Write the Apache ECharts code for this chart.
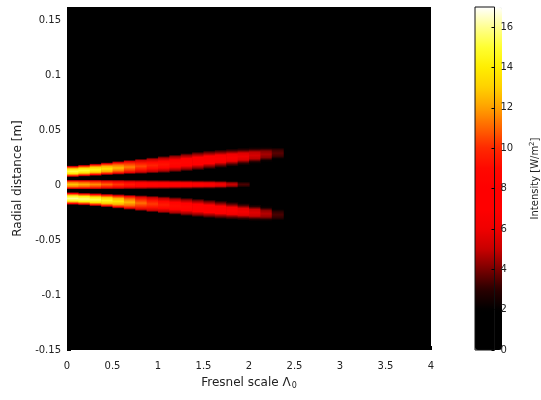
<!DOCTYPE html>
<html>
<head>
<meta charset="utf-8">
<script src="https://cdn.jsdelivr.net/npm/echarts@6/dist/echarts.min.js"></script>
<style>
  html, body { margin: 0; padding: 0; background: #fff; }
  #main { width: 541px; height: 400px; }
</style>
</head>
<body>
<div id="main"></div>
<script>
// column starts along the Fresnel scale (each column is colStep wide)
var colStart = [0, 0.125, 0.25, 0.375, 0.5, 0.625, 0.75, 0.875, 1, 1.125,
                1.25, 1.375, 1.5, 1.625, 1.75, 1.875, 2, 2.125, 2.25, 2.375];

// upper beam: centre [m], half width [m], peak intensity [W/m^2]
var upperCenter = [0.0125, 0.0132, 0.014, 0.0148, 0.0156, 0.0164, 0.0171, 0.0179, 0.0187, 0.0197,
                   0.0208, 0.0219, 0.023, 0.024, 0.025, 0.026, 0.027, 0.028, 0.029, 0.0298];
var upperHalf   = [0.0055, 0.0056, 0.0058, 0.006, 0.0063, 0.0066, 0.007, 0.0074, 0.0078, 0.0081,
                   0.0083, 0.0085, 0.0085, 0.0084, 0.0082, 0.008, 0.0077, 0.0073, 0.0068, 0.006];
var upperPeak   = [15.2, 15, 14.5, 13.7, 12.6, 11.5, 10.5, 9.8, 9.3, 8.9,
                   8.5, 8.1, 7.7, 7.2, 6.7, 6.1, 5.4, 4.6, 3.6, 0];

// middle beam
var middleCenter = [0.0005, 0.0005, 0.0005, 0.0005, 0.0005, 0.0005, 0.0005, 0.0005, 0.0005, 0.0005,
                    0.0005, 0.0005, 0.0005, 0.0005, 0.0005, 0.0005, 0.0005, 0.0005, 0.0005, 0.0005];
var middleHalf   = [0.0045, 0.0045, 0.0045, 0.0044, 0.0044, 0.0043, 0.0043, 0.0042, 0.0042, 0.0041,
                    0.0041, 0.004, 0.004, 0.0039, 0.0037, 0.0035, 0.0033, 0.003, 0.003, 0.003];
var middlePeak   = [12.8, 12.3, 11.7, 11, 10.2, 9.5, 9, 8.6, 8.3, 8,
                    7.6, 7.2, 6.8, 6.2, 5, 3.4, 0, 0, 0, 0];

// lower beam
var lowerCenter = [-0.0122, -0.0127, -0.0133, -0.014, -0.0148, -0.0156, -0.0164, -0.0172, -0.018, -0.0189,
                   -0.0198, -0.0207, -0.0216, -0.0225, -0.0234, -0.0243, -0.0252, -0.0261, -0.027, -0.0278];
var lowerHalf   = [0.006, 0.006, 0.0062, 0.0064, 0.0067, 0.007, 0.0073, 0.0076, 0.0079, 0.0081,
                   0.0083, 0.0084, 0.0084, 0.0083, 0.0081, 0.0079, 0.0076, 0.0072, 0.0067, 0.006];
var lowerPeak   = [16, 15.8, 15.3, 14.6, 13.8, 12.5, 11.2, 10.3, 9.6, 9.1,
                   8.7, 8.3, 7.9, 7.4, 6.9, 6.3, 5.6, 4.8, 3.4, 0];

// axis ticks
var xTicks = { min: 0, max: 4, interval: 0.5 };
var yTicks = { min: -0.15, max: 0.162, interval: 0.05 };
var cTicks = { min: 0, max: 17, interval: 2 };

// ---- style ----
var colStep = 0.125;
// 'hot' colour map, one colour per unit from 0 to 17
var hotColors = ['#000000', '#000000', '#000000', '#2a0000', '#7a0000', '#c80000', '#f00000', '#ff0000', '#ff0000',
                 '#ff0800', '#ff2800', '#ff6400', '#ffa000', '#ffd000', '#ffee00', '#ffff30', '#ffff90', '#ffffff'];
// cross-section of a beam: gradient offsets and share of the peak
var profOffset = [0, 0.12, 0.3, 0.5, 0.7, 0.88, 1];
var profShare  = [0.1, 0.5, 0.9, 1, 0.9, 0.5, 0.1];
var font = 'DejaVu Sans, Arial, sans-serif';
var txt = '#222';

function hot(v) {
    v = Math.max(0, Math.min(hotColors.length - 1, v));
    var i = Math.min(Math.floor(v), hotColors.length - 2);
    var t = v - i;
    var a = hotColors[i], b = hotColors[i + 1];
    var c = [1, 3, 5].map(function (k) {
        var p = parseInt(a.substr(k, 2), 16), q = parseInt(b.substr(k, 2), 16);
        return Math.round(p + (q - p) * t);
    });
    return 'rgb(' + c.join(',') + ')';
}

var cells = [];
[[upperCenter, upperHalf, upperPeak],
 [middleCenter, middleHalf, middlePeak],
 [lowerCenter, lowerHalf, lowerPeak]].forEach(function (b) {
    colStart.forEach(function (x, i) {
        if (b[2][i] > 0) cells.push([x, b[0][i], b[1][i], b[2][i]]);
    });
});

function renderItem(params, api) {
    var x = api.value(0), yc = api.value(1), hw = api.value(2), peak = api.value(3);
    var p1 = api.coord([x, yc + hw]);
    var p2 = api.coord([x + colStep, yc - hw]);
    var stops = profOffset.map(function (o, k) {
        return { offset: o, color: hot(peak * profShare[k]) };
    });
    return {
        type: 'rect',
        shape: { x: p1[0], y: p1[1], width: p2[0] - p1[0] + 0.6, height: p2[1] - p1[1] },
        style: { fill: new echarts.graphic.LinearGradient(0, 0, 0, 1, stops) }
    };
}

var myChart = echarts.init(document.getElementById('main'));
myChart.setOption({
    animation: false,
    backgroundColor: '#fff',
    textStyle: { fontFamily: font },
    grid: [
        { left: 67, top: 7, width: 364, height: 343, show: true, backgroundColor: '#000', borderColor: '#000', borderWidth: 0 },
        { left: 475, top: 7, width: 27, height: 343, show: true, backgroundColor: 'transparent', borderColor: '#111', borderWidth: 1, z: 10 }
    ],
    xAxis: [
        {
            type: 'value', gridIndex: 0,
            min: xTicks.min, max: xTicks.max, interval: xTicks.interval,
            name: 'Fresnel scale \u039b{sub|0}',
            nameLocation: 'middle', nameGap: 25,
            nameTextStyle: {
                fontSize: 12, color: txt, fontFamily: font,
                rich: { sub: { fontSize: 8, verticalAlign: 'bottom', padding: [7, 0, 0, 1], color: txt } }
            },
            axisLine: { show: false, onZero: false },
            axisTick: { show: true, inside: true, length: 4, lineStyle: { color: '#000' } },
            axisLabel: { fontSize: 10, color: txt, margin: 11 },
            splitLine: { show: false }
        },
        { type: 'value', gridIndex: 1, show: false, min: 0, max: 1 }
    ],
    yAxis: [
        {
            type: 'value', gridIndex: 0,
            min: yTicks.min, max: yTicks.max, interval: yTicks.interval,
            name: 'Radial distance [m]',
            nameLocation: 'middle', nameGap: 38,
            nameTextStyle: { fontSize: 12, color: txt, fontFamily: font },
            axisLine: { show: false, onZero: false },
            axisTick: { show: true, inside: true, length: 4, lineStyle: { color: '#000' } },
            axisLabel: { fontSize: 10, color: txt, margin: 6, showMaxLabel: false },
            splitLine: { show: false }
        },
        {
            type: 'value', gridIndex: 1, position: 'right', z: 10,
            min: cTicks.min, max: cTicks.max, interval: cTicks.interval,
            name: 'Intensity [W/m{sup|2}]',
            nameLocation: 'middle', nameGap: 34, nameRotate: 90,
            nameTextStyle: {
                fontSize: 10, color: txt, fontFamily: font,
                rich: { sup: { fontSize: 7, verticalAlign: 'top', padding: [0, 0, 6, 0], color: txt } }
            },
            axisLine: { show: false, onZero: false },
            axisTick: { show: true, inside: true, length: 3, lineStyle: { color: '#000' } },
            axisLabel: { fontSize: 10, color: txt, margin: 6, showMaxLabel: false },
            splitLine: { show: false }
        }
    ],
    visualMap: {
        type: 'continuous',
        min: cTicks.min, max: cTicks.max,
        seriesIndex: 0, dimension: 3,
        calculable: false, hoverLink: false,
        orient: 'vertical',
        left: 475, top: 7, padding: 0,
        itemWidth: 27, itemHeight: 343,
        inRange: { color: hotColors }
    },
    series: [{
        type: 'custom',
        xAxisIndex: 0, yAxisIndex: 0,
        renderItem: renderItem,
        encode: { x: 0, y: 1 },
        clip: true,
        data: cells
    }]
});
</script>
</body>
</html>
